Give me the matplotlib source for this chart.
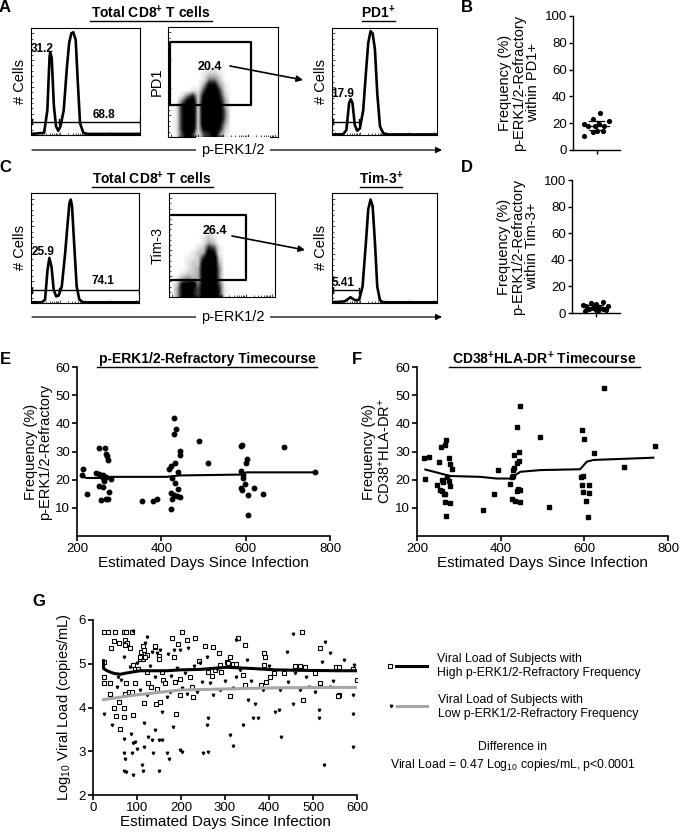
import matplotlib
matplotlib.use('Agg')
import matplotlib.pyplot as plt
from matplotlib.colors import LinearSegmentedColormap
import numpy as np

plt.rcParams['font.family'] = ['Liberation Sans', 'DejaVu Sans']
plt.rcParams['mathtext.fontset'] = 'custom'
plt.rcParams['mathtext.rm'] = 'Liberation Sans'
plt.rcParams['mathtext.bf'] = 'Liberation Sans:bold'
plt.rcParams['mathtext.it'] = 'Liberation Sans:italic'

# ---------------- data ----------------
# Flow histograms (channel %, count %)
A_h1_x = [0, 12, 15, 17, 17.6, 19, 21, 23, 25, 27, 30, 33, 35, 37, 38.8, 41, 43, 45, 48, 52, 100]
A_h1_y = [1, 2, 23, 73, 77, 72, 27, 8, 4, 8, 23, 64, 86, 95, 96, 89, 48, 11, 2, 1, 1]
A_h2_x = [0, 10.5, 13.7, 16.3, 17.9, 19.5, 21.7, 24, 26.5, 29.7, 32.3, 34.5, 36.7, 38.7, 40.9, 43.1, 45.7, 48.9, 53.7, 100]
A_h2_y = [0.6, 0.6, 4.7, 30, 33.4, 30, 9.4, 4, 6, 23, 58, 86, 97, 95, 80, 39, 8, 1.5, 0.5, 0.5]
C_h1_x = [0, 10, 13, 15.3, 17, 19, 21, 23.3, 25.5, 28.5, 31.6, 33.7, 35.6, 36.8, 38, 39.9, 42.3, 44.8, 48.5, 100]
C_h1_y = [0.6, 0.6, 3, 30, 41, 33, 12, 6, 6.7, 15, 45, 70, 91, 94, 88, 55, 15, 3, 0.6, 0.6]
C_h2_x = [0, 12.1, 15.3, 17.6, 20.1, 22.7, 25.9, 29.1, 32.3, 34.5, 36.7, 38.7, 40.9, 43.1, 45.7, 48.9, 100]
C_h2_y = [0.6, 1.5, 3.6, 5.2, 3.6, 2.4, 3, 15, 55, 85, 94, 88, 55, 15, 2.4, 0.6, 0.6]
A_h1_gates = [0.6, 25.8, 100]
A_h2_gates = [1, 26]
C_h1_gates = [0.6, 25.5, 100]
C_h2_gates = [1, 26]
A_h1_labels = ["31.2", "68.8"]
A_h2_labels = ["17.9"]
C_h1_labels = ["25.9", "74.1"]
C_h2_labels = ["5.41"]
A_dot_label = "20.4"
C_dot_label = "26.4"

# Dot-plot density (darkness 0-9), rows top->bottom
A_dot_grid = [
    "00000000000000000000",
    "00000000000000000000",
    "00000000000000000000",
    "00000000000000000000",
    "00000000000000000000",
    "00000000000000000000",
    "00000000000000000000",
    "00000001100000000000",
    "00000012210000000000",
    "00000014420000000000",
    "00000037731000000000",
    "00001159951000000000",
    "00146279962000000000",
    "00479289973000000000",
    "01699299983000000000",
    "01699299984000000000",
    "01699299984000000000",
    "01699299973000000000",
    "01698278962000000000",
    "01586156841000000000",
]
C_dot_grid = [
    "00000000000000000000",
    "00000000000000000000",
    "00000000000000000000",
    "00000000000000000000",
    "00000000000000000000",
    "00000000000000000000",
    "00000001000000000000",
    "00000001100000000000",
    "00000012100000000000",
    "00000013200000000000",
    "00000126510000000000",
    "00001238710000000000",
    "00011269920000000000",
    "00012289930000000000",
    "00012389940000000000",
    "00122389940000000000",
    "01343389940000000000",
    "02789489951000000000",
    "03797589961000000000",
    "03797589961000000000",
]
A_gate_rect = [1.5, 29, 75, 86]   # x0, y0, x1, y1 (%)
C_gate_rect = [0.3, 16, 73, 79]

# Panel B / D
B_vals = [27.4, 19.4, 22.9, 21.6, 17.9, 17.9, 17.9, 14.2, 14.2, 13.7, 10.4, 19.4]
B_jit = [0.14, -0.54, -0.14, 0.52, -0.35, -0.07, 0.31, 0.03, 0.28, -0.17, -0.54, 0.11]
B_err = 3.3
D_vals = [6.3, 7.3, 6.8, 8.5, 5.0, 5.5, 4.3, 3.8, 3.0, 2.5, 3.0, 1.8, 2.0, 1.5]
D_jit = [-0.54, -0.21, 0.0, 0.31, -0.43, 0.5, 0.14, -0.14, -0.28, 0.0, 0.28, -0.45, 0.43, 0.07]
D_err = 1.5

# Panel E
E_days = [215, 213, 224, 251, 266, 245, 251, 261, 269, 272, 274, 253, 262, 277, 258, 269, 274, 280, 265, 262,
          269, 353, 381, 389, 430, 435, 429, 422, 419, 432, 444, 444, 440, 426, 432, 440, 422, 429, 436, 444,
          426, 422, 490, 511, 590, 592, 602, 601, 590, 594, 594, 598, 588, 592, 620, 606, 641, 606, 691, 764]
E_vals = [23.8, 21.8, 14.8, 31.2, 31.2, 22.4, 22.1, 21.5, 29.2, 28.5, 27.1, 17.6, 17.4, 15.5, 12.7, 13.3, 13.1, 20.4, 19.4, 20.6,
          20.8, 12.5, 12.5, 13.1, 41.9, 38.0, 36.2, 24.7, 23.8, 25.9, 30.1, 28.6, 22.7, 20.6, 18.8, 16.7, 15.3, 14.7, 14.3, 13.8,
          13.3, 9.6, 33.6, 25.9, 31.8, 32.4, 27.5, 25.9, 23.2, 21.8, 20.6, 18.6, 17.0, 16.4, 17.0, 14.7, 15.0, 7.6, 31.7, 22.6]
E_fit_days = [211, 223, 255, 278, 412, 444, 586, 602, 764]
E_fit_vals = [21.2, 20.6, 20.6, 21.0, 21.0, 21.5, 21.8, 22.6, 22.6]

# Panel F
F_days = [216, 228, 220, 257, 268, 270, 253, 276, 278, 284, 248, 256, 260, 264, 268, 266, 280, 270, 260, 272,
          276, 278, 261, 357, 385, 393, 447, 439, 432, 444, 440, 445, 429, 432, 426, 430, 423, 442, 446, 439,
          426, 434, 446, 493, 516, 594, 600, 623, 592, 596, 594, 610, 598, 610, 604, 608, 646, 695, 769]
F_vals = [27.6, 28.2, 20.1, 31.5, 32.3, 34.1, 26.1, 27.6, 25.4, 23.7, 18.0, 16.4, 15.9, 15.0, 15.0, 12.0, 11.7, 7.2, 19.8, 21.0,
          19.5, 17.7, 19.2, 9.4, 15.0, 23.4, 46.1, 38.7, 28.8, 29.7, 26.0, 26.6, 23.6, 24.2, 21.0, 21.4, 18.6, 16.8, 16.2, 15.8,
          13.2, 12.6, 12.0, 35.3, 10.2, 37.5, 34.4, 29.4, 21.0, 21.3, 18.0, 18.0, 15.6, 15.3, 12.3, 6.6, 52.4, 24.6, 31.8]
F_fit_days = [220, 256, 280, 351, 391, 423, 447, 495, 590, 606, 622, 765]
F_fit_vals = [23.6, 22.2, 21.3, 21.0, 20.4, 20.4, 22.8, 23.4, 23.7, 26.4, 27.0, 27.8]

# Panel G
G_hi_days = [24, 35, 50, 71, 76, 89, 47, 41, 60, 73, 77, 85, 73, 24, 26, 26, 38, 38, 47, 52, 58, 62, 70, 71, 76, 81, 73, 88,
             92, 96, 92, 96, 103, 106, 110, 116, 122, 122, 113, 126, 117, 131, 141, 149, 151, 145, 143, 160, 163, 156, 153,
             179, 183, 186, 188, 194, 202, 198, 198, 213, 220, 224, 231, 228, 240, 255, 262, 273, 270, 277, 287, 289, 291,
             304, 311, 307, 311, 319, 330, 326, 345, 341, 345, 381, 389, 392, 388, 394, 402, 412, 434, 458, 470, 481, 475,
             477, 504, 517, 517, 553, 559, 591, 600, 560, 557, 114, 141, 107, 118]
G_hi_vals = [5.72, 5.72, 5.72, 5.72, 5.72, 5.72, 5.53, 5.35, 5.47, 5.54, 5.47, 5.37, 5.43, 5.05, 4.69, 4.55, 4.55, 4.30, 3.98,
             3.81, 4.13, 3.52, 3.98, 3.79, 4.55, 4.36, 4.32, 4.36, 4.97, 4.89, 3.84, 4.55, 4.89, 5.12, 5.27, 5.31, 5.20, 4.82,
             5.10, 4.55, 4.11, 4.47, 5.39, 5.18, 5.11, 4.42, 4.09, 4.64, 4.55, 4.82, 4.13, 5.60, 5.16, 4.59, 3.85, 5.45, 5.72,
             4.66, 4.28, 5.54, 4.69, 4.47, 5.60, 4.25, 5.06, 5.40, 4.82, 5.39, 4.72, 4.85, 5.24, 4.97, 4.82, 5.05, 5.16, 5.01,
             4.27, 4.99, 5.58, 4.99, 5.44, 4.74, 4.51, 4.51, 5.24, 5.16, 4.97, 4.59, 4.70, 4.78, 4.78, 4.95, 4.95, 4.92, 5.73,
             4.17, 4.78, 5.37, 4.55, 4.93, 4.93, 4.87, 4.64, 4.28, 4.27, 5.41, 5.41, 5.15, 5.15]
G_lo_days = [26, 43, 56, 71, 71, 71, 73, 71, 76, 86, 88, 92, 96, 90, 100, 111, 113, 116, 115, 126, 134, 141, 149, 137, 149,
             156, 156, 168, 173, 181, 198, 202, 251, 262, 262, 260, 311, 319, 341, 364, 374, 413, 423, 427, 526, 514, 153,
             171, 183, 198, 217, 243, 258, 281, 326, 349, 440, 455, 528, 538, 54, 64, 107, 122, 168, 175, 202, 213, 236,
             247, 273, 289, 319, 326, 353, 368, 387, 425, 444, 455, 470, 492, 504, 514, 538, 591, 591, 591, 593, 570, 91,
             122, 119, 134, 145, 83, 100, 130, 140, 178, 190, 210, 230, 265, 300, 335, 360, 400, 460, 485, 520, 545]
G_lo_vals = [3.86, 3.61, 4.70, 5.15, 3.29, 2.95, 2.83, 2.56, 2.53, 3.40, 2.95, 3.18, 3.21, 2.45, 3.06, 2.68, 2.56, 3.10, 3.65,
             3.33, 3.25, 3.48, 3.25, 2.95, 2.56, 3.25, 3.90, 2.95, 2.83, 3.56, 3.02, 2.98, 2.95, 2.98, 3.75, 3.60, 3.37, 3.12,
             3.60, 3.75, 3.75, 3.90, 3.94, 3.33, 2.68, 3.75, 5.31, 5.22, 5.31, 5.31, 5.35, 5.01, 5.16, 4.89, 5.54, 5.08, 5.27,
             5.69, 5.50, 5.24, 4.47, 4.63, 4.40, 4.28, 4.24, 4.36, 4.44, 4.32, 4.36, 4.59, 4.28, 4.40, 4.44, 4.70, 4.17, 4.09,
             4.40, 4.40, 4.59, 4.09, 4.40, 4.47, 4.36, 3.94, 4.47, 3.10, 3.86, 4.28, 4.97, 5.08, 5.76, 5.62, 5.47, 5.27, 5.24,
             4.92, 5.02, 4.95, 4.70, 4.72, 4.90, 4.80, 4.95, 4.55, 4.60, 4.85, 4.60, 4.95, 4.80, 4.70, 5.05, 4.60]
G_hi_fit_days = [24, 24, 32, 47, 62, 77, 107, 168, 198, 243, 304, 364, 414, 470, 560, 600]
G_hi_fit_vals = [5.07, 4.89, 4.84, 4.78, 4.76, 4.79, 4.84, 4.84, 4.86, 4.87, 4.92, 4.89, 4.86, 4.85, 4.84, 4.84]
G_lo_fit_days = [24, 92, 198, 414, 600]
G_lo_fit_vals = [4.18, 4.28, 4.40, 4.45, 4.46]

# ---------------- figure ----------------
W, H = 680, 832
fig = plt.figure(figsize=(6.8, 8.32), dpi=100)

DOT_CMAP = LinearSegmentedColormap.from_list(
    'flowdots', [(0, 'white'), (0.12, '#e8e8e8'), (0.35, '#a8a8a8'), (0.6, '#383838'), (0.8, 'black'), (1, 'black')])


def place(x0, y0, x1, y1):
    return fig.add_axes([x0 / W, 1 - y1 / H, (x1 - x0) / W, (y1 - y0) / H])


def flow_frame(ax):
    ax.set_xlim(0, 100)
    ax.set_ylim(0, 100)
    for s in ax.spines.values():
        s.set_linewidth(0.8)
    ax.set_xticks([3, 27, 50, 73, 97])
    ax.set_xticks(np.concatenate([d + np.log10(np.arange(2, 10)) * 23.5 for d in [3, 27, 50, 73]]), minor=True)
    ax.set_yticks([20, 45, 70, 95])
    ax.set_yticks(np.arange(5, 100, 5), minor=True)
    ax.tick_params(which='both', direction='in', labelbottom=False, labelleft=False, width=0.5)
    ax.tick_params(which='major', length=2.5)
    ax.tick_params(which='minor', length=1.2)


def flow_hist(ax, xs, ys, gates, gate_y, labels, label_pos):
    flow_frame(ax)
    ax.plot(xs, ys, color='black', lw=1.9, solid_joinstyle='round')
    ax.plot([gates[0], gates[-1]], [gate_y, gate_y], color='black', lw=1.0)
    for g in gates:
        ax.plot([g, g], [gate_y - 2.5, gate_y + 2.5], color='black', lw=1.0)
    for s, (x, y) in zip(labels, label_pos):
        ax.text(x, y, s, ha='center', va='center', fontsize=8.5, fontweight='bold')
    ax.set_ylabel('# Cells', fontsize=10.5, labelpad=3)


def flow_dot(ax, grid, rect, label, label_pos, ylabel):
    flow_frame(ax)
    arr = np.array([[int(c) for c in row] for row in grid], dtype=float)
    ax.imshow(arr, extent=[0, 100, 0, 100], cmap=DOT_CMAP, vmin=0, vmax=9,
              interpolation='bilinear', aspect='auto', origin='upper')
    x0, y0, x1, y1 = rect
    ax.plot([x0, x1, x1, x0, x0], [y0, y0, y1, y1, y0], color='black', lw=1.6)
    ax.text(label_pos[0], label_pos[1], label, ha='center', va='center', fontsize=9, fontweight='bold')
    ax.set_xlim(0, 100)
    ax.set_ylim(0, 100)
    ax.set_ylabel(ylabel, fontsize=10.5, labelpad=3)


# Row A
ax = place(31, 28, 140, 135)
flow_hist(ax, A_h1_x, A_h1_y, A_h1_gates, 12.5, A_h1_labels, [(10, 80), (67, 19)])
ax = place(168, 27, 278, 137)
flow_dot(ax, A_dot_grid, A_gate_rect, A_dot_label, (38, 64), 'PD1')
ax = place(332, 28, 437, 135)
flow_hist(ax, A_h2_x, A_h2_y, A_h2_gates, 12.5, A_h2_labels, [(10.5, 38)])

# Row C
ax = place(31, 193, 139, 303)
flow_hist(ax, C_h1_x, C_h1_y, C_h1_gates, 11.5, C_h1_labels, [(11, 46), (67, 20)])
ax = place(169, 193, 275, 297)
flow_dot(ax, C_dot_grid, C_gate_rect, C_dot_label, (43, 63), 'Tim-3')
ax = place(332, 193, 437, 303)
flow_hist(ax, C_h2_x, C_h2_y, C_h2_gates, 11.5, C_h2_labels, [(10.5, 18)])


def dot_panel(ax, vals, jit, err, ylabel):
    ax.scatter(jit, vals, s=14, color='black', zorder=3, linewidths=0)
    m = float(np.mean(vals))
    ax.plot([-0.55, 0.55], [m, m], color='black', lw=0.9)
    for v in (m - err, m + err):
        ax.plot([-0.3, 0.3], [v, v], color='black', lw=0.9)
    ax.plot([0, 0], [m - err, m + err], color='black', lw=0.9)
    ax.set_xlim(-1, 1)
    ax.set_ylim(0, 100)
    ax.set_yticks(range(0, 101, 20))
    ax.set_xticks([0])
    ax.set_xticklabels([''])
    for s in ['top', 'right']:
        ax.spines[s].set_visible(False)
    for s in ['left', 'bottom']:
        ax.spines[s].set_linewidth(1.0)
    ax.tick_params(labelsize=9.5, width=1.0, length=3, pad=1.5)
    ax.set_ylabel(ylabel, fontsize=10.5, linespacing=1.0, labelpad=3)


ax = place(573, 16, 620, 150)
dot_panel(ax, B_vals, B_jit, B_err, 'Frequency (%)\np-ERK1/2-Refractory\nwithin PD1+')
ax = place(572, 180, 620, 313)
dot_panel(ax, D_vals, D_jit, D_err, 'Frequency (%)\np-ERK1/2-Refractory\nwithin Tim-3+')


def time_panel(ax, days, vals, fit_d, fit_v, marker, ms, ylabel):
    ax.plot(days, vals, linestyle='none', marker=marker, ms=ms, color='black', mec='black', zorder=3)
    ax.plot(fit_d, fit_v, color='black', lw=1.5)
    ax.set_xlim(200, 800)
    ax.set_ylim(0, 60)
    ax.set_xticks([200, 400, 600, 800])
    ax.set_yticks([10, 20, 30, 40, 50, 60])
    for s in ['top', 'right']:
        ax.spines[s].set_visible(False)
    for s in ['left', 'bottom']:
        ax.spines[s].set_linewidth(1.2)
    ax.tick_params(labelsize=9.5, width=1.2, length=3.5, pad=1.5)
    ax.set_xlabel('Estimated Days Since Infection', fontsize=11, labelpad=1)
    ax.set_ylabel(ylabel, fontsize=10.5, linespacing=1.0, labelpad=2)


ax = place(77, 367, 330, 536)
time_panel(ax, E_days, E_vals, E_fit_days, E_fit_vals, 'o', 3.2, 'Frequency (%)\np-ERK1/2-Refractory')
ax = place(417, 367, 668, 536)
time_panel(ax, F_days, F_vals, F_fit_days, F_fit_vals, 's', 3.2, 'Frequency (%)\nCD38$^{+}$HLA-DR$^{+}$')

# Panel G
ax = place(93, 620, 357, 795)
ax.plot(G_hi_days, G_hi_vals, linestyle='none', marker='s', ms=3.2, mfc='white', mec='black', mew=0.8, zorder=3)
ax.plot(G_lo_days, G_lo_vals, linestyle='none', marker='v', ms=1.8, color='black', zorder=3)
ax.plot(G_hi_fit_days, G_hi_fit_vals, color='black', lw=2.2, zorder=4)
ax.plot(G_lo_fit_days, G_lo_fit_vals, color='#a6a6a6', lw=2.2, zorder=4)
ax.set_xlim(0, 600)
ax.set_ylim(2, 6)
ax.set_xticks(range(0, 601, 100))
ax.set_yticks(range(2, 7))
for s in ['top', 'right']:
    ax.spines[s].set_visible(False)
for s in ['left', 'bottom']:
    ax.spines[s].set_linewidth(1.2)
ax.tick_params(labelsize=9.5, width=1.2, length=3.5, pad=1.5)
ax.set_xlabel('Estimated Days Since Infection', fontsize=11, labelpad=1)
ax.set_ylabel('Log$_{10}$ Viral Load (copies/mL)', fontsize=10.5, labelpad=4)

# ---------------- overlay (pixel coordinates) ----------------
ov = fig.add_axes([0, 0, 1, 1], zorder=10)
ov.set_xlim(0, W)
ov.set_ylim(H, 0)
ov.axis('off')
ov.patch.set_alpha(0)

for s, (x, y) in zip('ABCDEFG', [(5, 8), (467, 7), (5, 168), (467, 168), (5, 359), (357, 359), (39, 602)]):
    ov.text(x, y, s, fontsize=12, fontweight='bold', ha='center', va='center')


def title(x, y, s, u0, u1, uy):
    ov.text(x, y, s, fontsize=10, fontweight='bold', ha='center', va='center')
    ov.plot([u0, u1], [uy, uy], color='black', lw=1.0)


title(151, 13, r'Total CD8$^{\mathbf{+}}$ T cells', 90, 212, 21)
title(378, 13, r'PD1$^{\mathbf{+}}$', 362, 395, 21)
title(152, 179, r'Total CD8$^{\mathbf{+}}$ T cells', 92, 213, 187)
title(381, 179, r'Tim-3$^{\mathbf{+}}$', 360, 402, 187)
title(207, 359, 'p-ERK1/2-Refractory Timecourse', 97, 317, 367)
title(544, 359, r'CD38$^{\mathbf{+}}$HLA-DR$^{\mathbf{+}}$ Timecourse', 449, 640, 367)

for y in (150, 317):
    ov.annotate('', xy=(442, y), xytext=(32, y),
                arrowprops=dict(arrowstyle='-|>', lw=0.9, color='black', mutation_scale=9, shrinkA=0, shrinkB=0))
    ov.text(233, y, 'p-ERK1/2', fontsize=10.5, ha='center', va='center',
            bbox=dict(facecolor='white', edgecolor='none', pad=4))

ov.annotate('', xy=(303, 80), xytext=(230, 66),
            arrowprops=dict(arrowstyle='-|>', lw=1.2, color='black', mutation_scale=9, shrinkA=0, shrinkB=0))
ov.annotate('', xy=(305, 250), xytext=(232, 236),
            arrowprops=dict(arrowstyle='-|>', lw=1.2, color='black', mutation_scale=9, shrinkA=0, shrinkB=0))

# Legend of G
ov.plot([390], [666], marker='s', ms=3.2, mfc='white', mec='black', mew=0.8)
ov.plot([396, 427], [666, 666], color='black', lw=2.2)
ov.text(437, 666, 'Viral Load of Subjects with\nHigh p-ERK1/2-Refractory Frequency', fontsize=8.8,
        ha='left', va='center', linespacing=1.25)
ov.plot([391], [706], marker='v', ms=1.8, color='black')
ov.plot([397, 427], [706, 706], color='#a6a6a6', lw=2.2)
ov.text(438, 707, 'Viral Load of Subjects with\nLow p-ERK1/2-Refractory Frequency', fontsize=8.8,
        ha='left', va='center', linespacing=1.25)
ov.text(513, 757, 'Difference in\nViral Load = 0.47 Log$_{10}$ copies/mL, p<0.0001', fontsize=8.8,
        ha='center', va='center', linespacing=1.3)

fig.savefig('out.png', dpi=100)
